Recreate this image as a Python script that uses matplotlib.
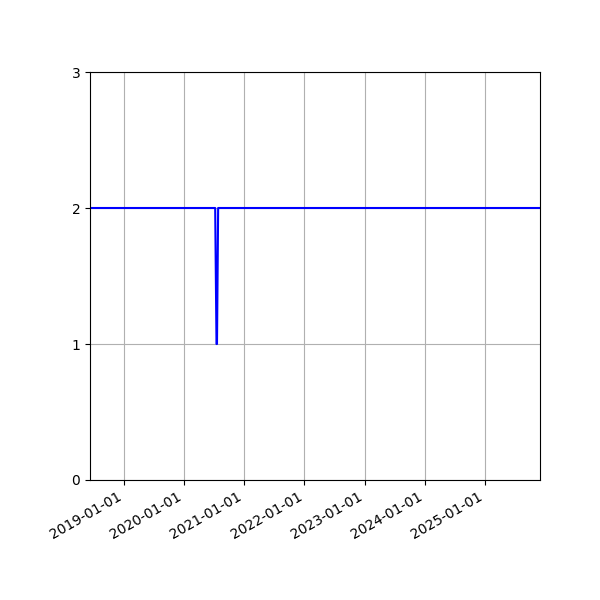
import matplotlib
matplotlib.use('Agg')
import matplotlib.pyplot as plt
import matplotlib.dates as mdates
import datetime as dt

# Messpunkte (Datum, Wert)
datum = ['2018-06-09', '2020-07-08', '2020-07-16', '2020-07-19', '2020-07-26', '2025-12-01']
wert = [2, 2, 1, 1, 2, 2]

tage = [dt.datetime.strptime(d, '%Y-%m-%d') for d in datum]

fig, ax = plt.subplots(figsize=(6, 6), dpi=100)
ax.plot(tage, wert, color='blue', lw=1.5)
ax.set_xlim(tage[0], tage[-1])
ax.set_ylim(0, 3)
ax.set_yticks([0, 1, 2, 3])
ax.xaxis.set_major_locator(mdates.YearLocator())
ax.xaxis.set_major_formatter(mdates.DateFormatter('%Y-%m-%d'))
ax.grid(True)
fig.autofmt_xdate()
fig.subplots_adjust(left=0.15, right=0.9, top=0.88, bottom=0.2)
fig.savefig('out.png')
